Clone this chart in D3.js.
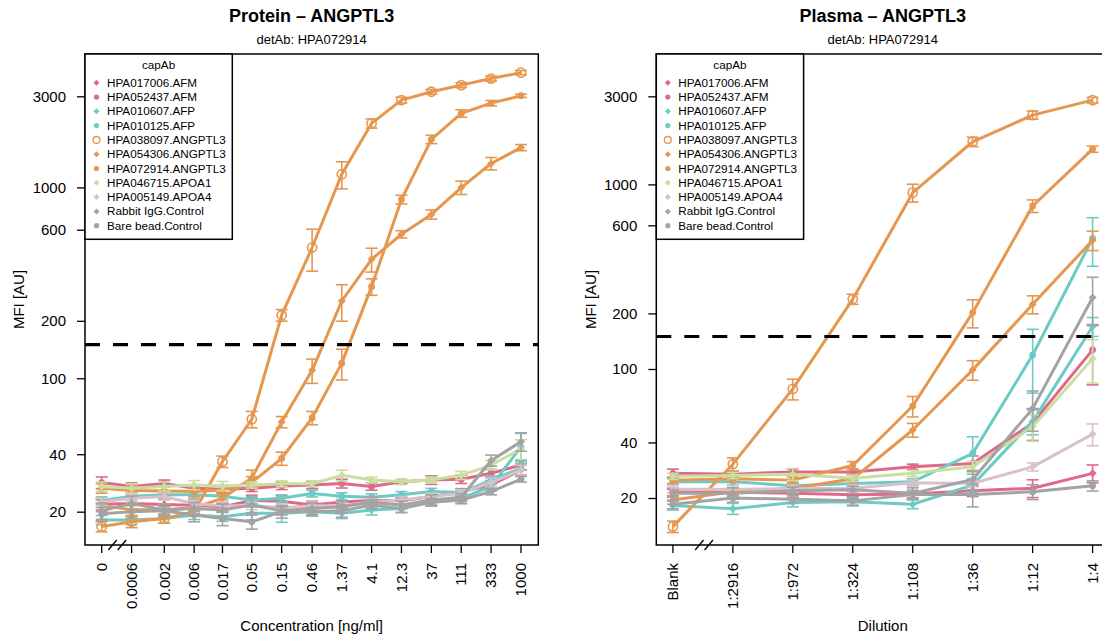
<!DOCTYPE html>
<html><head><meta charset="utf-8">
<script src="https://cdn.jsdelivr.net/npm/d3@7"></script>
<style>
body{margin:0;background:#fff;overflow:hidden}
text{font-family:"Liberation Sans",Arial,Helvetica,sans-serif;fill:#000}
</style>
</head><body><svg id="c" width="1102" height="638"></svg>
<script>
// ---------- categories ----------
const concLabels = ["0","0.0006","0.002","0.006","0.017","0.05","0.15","0.46","1.37","4.1","12.3","37","111","333","1000"];
const concValues = [0,0.0006,0.002,0.006,0.017,0.05,0.15,0.46,1.37,4.1,12.3,37,111,333,1000];
const dilutionLabels = ["Blank","1:2916","1:972","1:324","1:108","1:36","1:12","1:4"];
const seriesNames = ["HPA017006.AFM","HPA052437.AFM","HPA010607.AFP","HPA010125.AFP","HPA038097.ANGPTL3","HPA054306.ANGPTL3","HPA072914.ANGPTL3","HPA046715.APOA1","HPA005149.APOA4","Rabbit IgG.Control","Bare bead.Control"];
const seriesColors = ["#E0698A","#E0698A","#6CCBC4","#6CCBC4","#E6974F","#E6974F","#E6974F","#C9DFA2","#D9C1CB","#A3A3A3","#A3A3A3"];
const seriesShapes = ["diamond","circle","diamond","circle","open","diamond","circle","diamond","diamond","diamond","circle"];
const yTicks = [20,40,100,200,600,1000,3000];
const threshold = [150];

// ---------- Protein panel: MFI values ----------
const protAFM017006 = [21.9,22.1,21.8,21.6,21.2,22.9,22.7,21.7,22.5,22.9,22.8,24,25.4,27.6,33.1];
const protAFM052437 = [28.4,27.1,28.1,26.5,26.2,26.5,27.3,27.6,28.1,27.1,28.7,29.3,29.6,31.8,35.1];
const protAFP010607 = [18.1,18.1,18.4,19.2,18.8,19.6,19.6,20,19.6,20.4,20.8,22.9,23.5,27.1,43.8];
const protAFP010125 = [22.9,24.1,24.5,24.5,24.1,23,23.5,24.9,24.1,23.8,24.5,25.5,25.2,29.3,33.7];
const protANG038097 = [16.7,17.7,18.4,20,36.6,61,214,484,1172,2164,2866,3170,3434,3716,3992];
const protANG054306 = [21.5,20.5,20.5,21,23.5,30,59,110,254,420,568,722,998,1334,1616];
const protANG072914 = [26.5,25.8,25.7,25.5,26,28.5,38,62,120,302,864,1786,2440,2762,3020];
const protAPOA1 = [27.1,26.5,27.1,27.6,27.3,27.6,28,28,31,29.3,28.7,29.3,31,35.1,42.6];
const protAPOA4 = [22.5,23.5,24,22,21.5,21.5,21,21.5,21.5,22.5,23,24,25,28.5,33];
const protRabbit = [20.2,22.1,20.4,20.8,20.4,21.7,20.2,20.8,21.2,22.4,21.7,23,23.8,37.1,46.5];
const protBare = [19.5,20,20.2,19.2,18.4,17.7,20,20,20.2,21.7,20.8,22.4,23,25.5,29.6];

// ---------- Protein panel: error half-widths ----------
const protErrAFM017006 = [1.5,1.5,1.5,1.5,1,1.5,1.5,1,1.5,1,1,1,1,1.5,2];
const protErrAFM052437 = [2,1.2,1.2,1,1,1,1.2,1.2,1.5,1.2,0.5,1.5,1.5,1.5,2];
const protErrAFP010607 = [1,1,1,1,1,1.5,2,1,1.2,1.2,1,1,1,1.5,8];
const protErrAFP010125 = [1,1,1,1,1,1,1,1,1,1,1,1,1,1.5,3];
const protErrANG038097 = [1,1.2,1,1,2.5,6,15,120,190,120,100,90,100,110,100];
const protErrANG054306 = [1.5,1.5,1.5,1.5,1.5,3,4,16,55,60,25,40,80,100,60];
const protErrANG072914 = [1.5,1.5,1.5,1.5,1.5,2,3,5,22,30,45,90,110,90,60];
const protErrAPOA1 = [1.5,1.5,1.5,1.5,1.5,1,1,1,2,1,1,1,1.5,2,5];
const protErrAPOA4 = [1,1,1,1,1,1,1,1,1,1,1,1,1,1.5,2];
const protErrRabbit = [2,2,1.5,1.5,1.5,2,1,1.5,1.5,1.5,1,1.5,1,2.5,5];
const protErrBare = [1.5,1.5,1,1.5,1.5,1.5,1.5,1,1.5,1,1,1,1,1,1];

// ---------- Plasma panel: MFI values ----------
const plasAFM017006 = [21.6,21.5,21.2,20.8,21.0,21.9,22.6,27.2];
const plasAFM052437 = [27.2,26.9,27.7,27.7,29.5,30.8,51,127];
const plasAFP010607 = [18.2,17.5,18.9,19.1,18.5,23.5,52,170];
const plasAFP010125 = [24.5,24.5,23.3,24,24.5,34.9,119,510];
const plasANG038097 = [14,30.5,78,239,902,1702,2374,2860];
const plasANG054306 = [19.5,21.6,22.5,25.4,46.7,98.9,224,498];
const plasANG072914 = [25,25.4,25,30,63,202,764,1552];
const plasAPOA1 = [26.2,26.5,26.9,25.6,27.2,29.5,48.6,114];
const plasAPOA4 = [22.3,22.3,22.5,22.6,24.2,24,29.5,44.4];
const plasRabbit = [21.2,21.2,21.9,22.2,21.2,25.2,61,244];
const plasBare = [18.5,20,19.7,19.3,20.9,20.9,21.6,23.3];

// ---------- Plasma panel: error half-widths ----------
const plasErrAFM017006 = [1,1,1,1,1,1.5,2.5,3];
const plasErrAFM052437 = [1.5,1,1,1,1,3,10,45];
const plasErrAFP010607 = [1,1.2,1,1,1,2,8,20];
const plasErrAFP010125 = [1,1,1,1,1,8,45,150];
const plasErrANG038097 = [1,2.5,10,15,100,100,120,100];
const plasErrANG054306 = [1,1,1,1.5,4,12,25,60];
const plasErrANG072914 = [1,1,1,1.5,8,35,60,60];
const plasErrAPOA1 = [1,1,2,1,1,2,8,30];
const plasErrAPOA4 = [1,1,1,1,1,1,1.5,6];
const plasErrRabbit = [1,1.5,1,1,1.5,3,15,70];
const plasErrBare = [1,1,1,1,1,3,2,1.5];

const proteinSeries = [protAFM017006,protAFM052437,protAFP010607,protAFP010125,protANG038097,protANG054306,protANG072914,protAPOA1,protAPOA4,protRabbit,protBare];
const proteinErrors = [protErrAFM017006,protErrAFM052437,protErrAFP010607,protErrAFP010125,protErrANG038097,protErrANG054306,protErrANG072914,protErrAPOA1,protErrAPOA4,protErrRabbit,protErrBare];
const plasmaSeries = [plasAFM017006,plasAFM052437,plasAFP010607,plasAFP010125,plasANG038097,plasANG054306,plasANG072914,plasAPOA1,plasAPOA4,plasRabbit,plasBare];
const plasmaErrors = [plasErrAFM017006,plasErrAFM052437,plasErrAFP010607,plasErrAFP010125,plasErrANG038097,plasErrANG054306,plasErrANG072914,plasErrAPOA1,plasErrAPOA4,plasErrRabbit,plasErrBare];

// ---------- drawing ----------
const svg = d3.select("#c");
const TOP = 54, BOTTOM = 545;

function diamondPath(r){ return `M0,${-r}L${r},0L0,${r}L${-r},0Z`; }

function drawMarker(g, shape, color, x, y, big){
  if (shape === "open") {
    g.append("circle").attr("cx",x).attr("cy",y).attr("r",big?4.6:3.4)
      .attr("fill","none").attr("stroke",color).attr("stroke-width",big?1.6:1.4);
  } else if (shape === "circle") {
    g.append("circle").attr("cx",x).attr("cy",y).attr("r",big?3.4:2.6).attr("fill",color);
  } else {
    g.append("path").attr("d",diamondPath(big?4:3)).attr("transform",`translate(${x},${y})`).attr("fill",color);
  }
}

function drawPanel(cfg){
  const g = svg.append("g");
  const x = cfg.x, y = cfg.y;
  const L = cfg.left, R = cfg.right;
  const cx = (L+R)/2;

  // titles
  g.append("text").attr("x",cx).attr("y",22).attr("text-anchor","middle")
    .style("font-size","18px").style("font-weight","bold").text(cfg.title);
  g.append("text").attr("x",cx).attr("y",44).attr("text-anchor","middle")
    .style("font-size","13px").text("detAb: HPA072914");

  // series
  cfg.series.forEach((vals, si) => {
    const col = seriesColors[si];
    const errs = cfg.errors[si];
    const pts = vals.map((v,i)=>({x:cfg.xPos(i), v, e:errs[i]}));
    const sg = g.append("g");
    sg.append("path").datum(pts)
      .attr("d", d3.line().x(d=>d.x).y(d=>y(d.v)))
      .attr("fill","none").attr("stroke",col).attr("stroke-width",3).attr("stroke-linejoin","round");
    pts.forEach(p=>{
      const y1 = y(p.v + p.e), y2 = y(Math.max(p.v - p.e, 1));
      sg.append("line").attr("x1",p.x).attr("x2",p.x).attr("y1",y1).attr("y2",y2)
        .attr("stroke",col).attr("stroke-width",1.6);
      [y1,y2].forEach(yy=>sg.append("line").attr("x1",p.x-6).attr("x2",p.x+6).attr("y1",yy).attr("y2",yy)
        .attr("stroke",col).attr("stroke-width",1.6));
      drawMarker(sg, seriesShapes[si], col, p.x, y(p.v), true);
    });
  });

  // threshold line
  threshold.forEach(t=>{
    g.append("line").attr("x1",L).attr("x2",R).attr("y1",y(t)).attr("y2",y(t))
      .attr("stroke","#000").attr("stroke-width",3.2).attr("stroke-dasharray","15,13");
  });

  // box
  g.append("rect").attr("x",L).attr("y",TOP).attr("width",R-L).attr("height",BOTTOM-TOP)
    .attr("fill","none").attr("stroke","#000").attr("stroke-width",1.5);

  // y axis
  const ya = g.append("g").attr("transform",`translate(${L},0)`)
    .call(d3.axisLeft(y).tickValues(yTicks).tickFormat(d3.format("d")).tickSize(8).tickPadding(11));
  ya.select(".domain").remove();
  ya.selectAll("line").attr("stroke","#000").attr("stroke-width",1.3);
  ya.selectAll("text").style("font-size","15px").attr("font-family",null);

  // x axis ticks
  cfg.labels.forEach((lab,i)=>{
    const xp = cfg.xPos(i);
    g.append("line").attr("x1",xp).attr("x2",xp).attr("y1",BOTTOM).attr("y2",BOTTOM+8)
      .attr("stroke","#000").attr("stroke-width",1.3);
    g.append("text").attr("transform",`translate(${xp},563) rotate(-90)`)
      .attr("text-anchor","end").attr("dy","0.35em").style("font-size","15px").text(lab);
  });

  // axis break marks
  const bx = cfg.xPos(0) + 0.52*(cfg.xPos(1)-cfg.xPos(0));
  [-4.7,4.7].forEach(o=>{
    g.append("line").attr("x1",bx+o-4.2).attr("y1",BOTTOM+5).attr("x2",bx+o+4.2).attr("y2",BOTTOM-5)
      .attr("stroke","#000").attr("stroke-width",1.3);
  });

  // axis titles
  g.append("text").attr("x",cx).attr("y",631).attr("text-anchor","middle")
    .style("font-size","15px").text(cfg.xTitle);
  g.append("text").attr("transform",`translate(${L-66},${(TOP+BOTTOM)/2}) rotate(-90)`)
    .attr("text-anchor","middle").attr("dy","0.35em").style("font-size","15px").text("MFI [AU]");

  // legend
  const lg = g.append("g");
  lg.append("rect").attr("x",L).attr("y",TOP).attr("width",147.3).attr("height",185.3)
    .attr("fill","#fff").attr("stroke","#000").attr("stroke-width",1.5);
  lg.append("text").attr("x",L+73.6).attr("y",TOP+11).attr("dy","0.35em").attr("text-anchor","middle")
    .style("font-size","11.7px").text("capAb");
  seriesNames.forEach((nm,i)=>{
    const yy = TOP + 28.7 + i*14.3;
    drawMarker(lg, seriesShapes[i], seriesColors[i], L+11.5, yy, false);
    lg.append("text").attr("x",L+22).attr("y",yy).attr("dy","0.35em")
      .style("font-size","11.7px").text(nm);
  });
}

// Protein panel: log concentration axis, blank placed one 3-fold step below lowest
const protLeft = 85, protRight = 538.3;
const blankConc = concValues[1]/3;
const xProt = d3.scaleLog().domain([blankConc, concValues[concValues.length-1]]).range([101.7, 521]);
const yProt = d3.scaleLog().domain([13.38, 4998]).range([BOTTOM, TOP]);
drawPanel({
  title:"Protein \u2013 ANGPTL3", xTitle:"Concentration [ng/ml]",
  left:protLeft, right:protRight, y:yProt, x:xProt,
  labels:concLabels,
  xPos:i=> xProt(concValues[i] === 0 ? blankConc : concValues[i]),
  series:proteinSeries, errors:proteinErrors
});

// Plasma panel: evenly spaced dilution steps
const xPlas = d3.scalePoint().domain(dilutionLabels).range([672.9, 1092.6]);
const yPlas = d3.scaleLog().domain([11.13, 5086]).range([BOTTOM, TOP]);
drawPanel({
  title:"Plasma \u2013 ANGPTL3", xTitle:"Dilution",
  left:656.3, right:1109.2, y:yPlas, x:xPlas,
  labels:dilutionLabels,
  xPos:i=> xPlas(dilutionLabels[i]),
  series:plasmaSeries, errors:plasmaErrors
});
</script>
</body></html>
